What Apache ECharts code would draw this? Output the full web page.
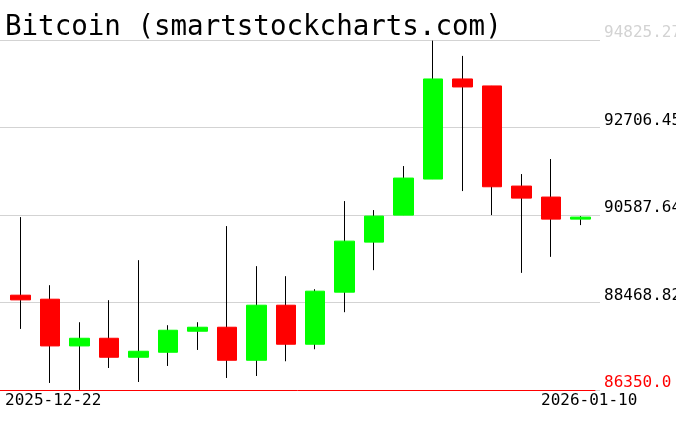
<!DOCTYPE html>
<html>
<head>
<meta charset="utf-8">
<script src="https://cdn.jsdelivr.net/npm/echarts@6/dist/echarts.min.js"></script>
<style>html,body{margin:0;padding:0;background:#fff;}#c{width:676px;height:431px;}</style>
</head>
<body>
<div id="c"></div>
<script>
var titleText = 'Bitcoin (smartstockcharts.com)';
var dates = ['2025-12-22','2025-12-23','2025-12-24','2025-12-25','2025-12-26','2025-12-27','2025-12-28','2025-12-29','2025-12-30','2025-12-31',
             '2026-01-01','2026-01-02','2026-01-03','2026-01-04','2026-01-05','2026-01-06','2026-01-07','2026-01-08','2026-01-09','2026-01-10'];
var opens  = [88646, 88549, 87417, 87603, 87143, 87264, 87773, 87870, 87070, 88403, 87458, 88719, 89931, 90585, 91458, 93882, 93713, 91288, 91022, 90488];
var closes = [88532, 87417, 87603, 87143, 87288, 87797, 87870, 87070, 88403, 87458, 88743, 89955, 90561, 91482, 93882, 93688, 91271, 90997, 90488, 90537];
var highs  = [90537, 88888, 87991, 88525, 89494, 87919, 87991, 90319, 89349, 89106, 88791, 90925, 90707, 91773, 94810, 94440, 93713, 91579, 91943, 90561];
var lows   = [87829, 86520, 86352, 86883, 86544, 86932, 87320, 86641, 86689, 87046, 87337, 88234, 89252, 90585, 91458, 91167, 90585, 89186, 89574, 90343];
var yMin = 86350.0, yMax = 94825.27;
var yTicks = ['86350.0', '88468.82', '90587.64', '92706.45', '94825.27'];
var xTicks = ['2025-12-22', '2026-01-10'];

var candleData = dates.map(function (d, i) { return [opens[i], closes[i], lows[i], highs[i]]; });
var bodyData = dates.map(function (d, i) {
  return [opens[i], closes[i], Math.min(opens[i], closes[i]), Math.max(opens[i], closes[i])];
});

var FONT = 'DejaVu Sans Mono';
var chart = echarts.init(document.getElementById('c'), null, {renderer: 'canvas'});
var gridBase = {top: 40, bottom: 41, outerBoundsMode: 'none', containLabel: false};
chart.setOption({
  animation: false,
  backgroundColor: '#fff',
  title: {
    text: titleText, left: 0, top: 9,
    textStyle: {fontFamily: FONT, fontSize: 27.5, fontWeight: 'normal', color: '#000'}
  },
  grid: [
    Object.assign({left: 0, right: 76}, gridBase),
    Object.assign({left: 6, right: 81}, gridBase),
    Object.assign({left: 0, right: 81}, gridBase),
    Object.assign({left: 5, right: 135}, gridBase)
  ],
  xAxis: [
    {gridIndex: 0, type: 'value', show: false},
    {gridIndex: 1, type: 'category', data: dates, boundaryGap: true, show: false},
    {gridIndex: 2, type: 'value', axisLine: {show: true, lineStyle: {color: '#ff0000', width: 1}},
     axisTick: {show: false}, axisLabel: {show: false}, splitLine: {show: false}},
    {gridIndex: 3, type: 'category', data: xTicks, boundaryGap: false,
     axisLine: {show: false}, axisTick: {show: false}, splitLine: {show: false},
     axisLabel: {show: true, interval: 0, align: 'left', margin: 3, fontFamily: FONT, fontSize: 16, color: '#000'}}
  ],
  yAxis: [
    {gridIndex: 0, type: 'value', min: 0, max: yTicks.length - 1, interval: 1, position: 'right',
     axisLine: {show: false}, axisTick: {show: false},
     splitLine: {show: true, lineStyle: {color: '#d3d3d3', width: 1}},
     axisLabel: {show: true, margin: 4, align: 'left', verticalAlign: 'bottom', lineHeight: 14, fontFamily: FONT, fontSize: 16,
       formatter: function (v) { return yTicks[Math.round(v)]; },
       color: function (v) {
         var i = Math.round(typeof v === 'string' ? parseFloat(v) : v);
         if (i === 0) return '#ff0000';
         if (i === yTicks.length - 1) return '#d3d3d3';
         return '#000';
       }}},
    {gridIndex: 1, type: 'value', min: yMin, max: yMax, show: false, splitLine: {show: false}},
    {gridIndex: 2, type: 'value', show: false, splitLine: {show: false}},
    {gridIndex: 3, type: 'value', show: false, splitLine: {show: false}}
  ],
  series: [
    {type: 'candlestick', xAxisIndex: 1, yAxisIndex: 1, data: candleData, barWidth: 1,
     itemStyle: {color: '#000', color0: '#000', borderColor: '#000', borderColor0: '#000', borderWidth: 1}},
    {type: 'candlestick', xAxisIndex: 1, yAxisIndex: 1, data: bodyData, barWidth: 20,
     itemStyle: {color: '#00ff00', color0: '#ff0000', borderColor: '#00ff00', borderColor0: '#ff0000', borderWidth: 1}}
  ]
});
</script>
</body>
</html>
